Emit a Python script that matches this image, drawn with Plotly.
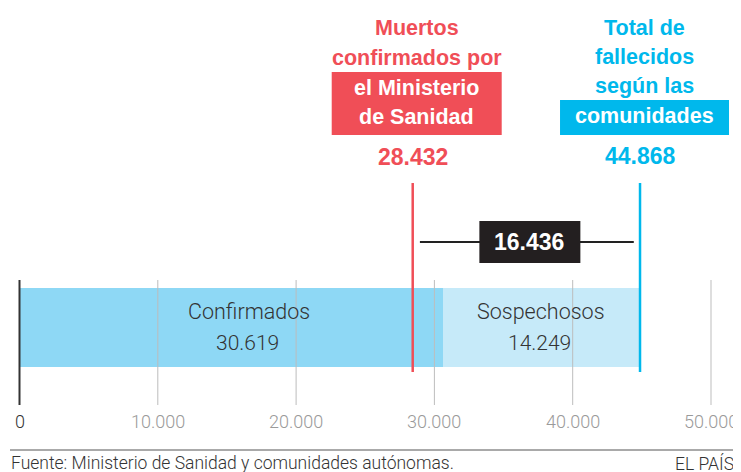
import plotly.graph_objects as go

# ---- data ----
categories = ["Confirmados", "Sospechosos"]
values = [30619, 14249]
bar_colors = ["#8ED8F5", "#C6EAF9"]
muertos_ministerio = 28432
total_comunidades = 44868
tick_values = [0, 10000, 20000, 30000, 40000, 50000]
tick_labels = ["0", "10.000", "20.000", "30.000", "40.000", "50.000"]

RED = "#F04E57"
CYAN = "#00B8EC"
BOLD = "Liberation Sans"
REG = "Roboto"

# page body has an 8px margin: figure is drawn at screen (8, 8)
OFF = 8
W, H = 741 - OFF, 472 - OFF


def fmt(v):
    return f"{v:,}".replace(",", ".")


def px(xs):
    return (xs - OFF) / W


fig = go.Figure()
BAR_Y = 327.5
for cat, val, col in zip(categories, values, bar_colors):
    fig.add_trace(go.Bar(
        y=[BAR_Y], x=[val], orientation="h", width=79,
        marker=dict(color=col, line=dict(width=0)),
        name=cat, hoverinfo="skip", showlegend=False,
    ))

shapes = []
annotations = []

# gridlines
for tv in tick_values:
    shapes.append(dict(type="line", xref="x", yref="y", x0=tv, x1=tv, y0=280, y1=405,
                       line=dict(color="#333333" if tv == 0 else "#BDBDBD",
                                 width=2 if tv == 0 else 1),
                       layer="above"))
for tv, tl in zip(tick_values, tick_labels):
    annotations.append(dict(x=tv, y=421, xref="x", yref="y", text=tl, showarrow=False,
                            font=dict(family=REG, size=18, weight=300,
                                      color="#333333" if tv == 0 else "#9A9A9A"),
                            xanchor="center", yanchor="middle"))

# bar labels
offsets = [18, 0]
start = 0
for cat, val, off in zip(categories, values, offsets):
    cx = start + val / 2
    annotations.append(dict(x=cx, y=311, xref="x", yref="y", text=cat, showarrow=False,
                            xshift=off, font=dict(family=REG, size=21.5, color="#333333", weight=300),
                            xanchor="center", yanchor="middle"))
    annotations.append(dict(x=cx, y=343, xref="x", yref="y", text=fmt(val), showarrow=False,
                            xshift=off - 2, font=dict(family=REG, size=21, color="#333333", weight=300),
                            xanchor="center", yanchor="middle"))
    start += val

# vertical reference lines
for v, col in [(muertos_ministerio, RED), (total_comunidades, CYAN)]:
    shapes.append(dict(type="line", xref="x", yref="y", x0=v, x1=v, y0=183, y1=372,
                       line=dict(color=col, width=2.5), layer="above"))

# red label
red_lines = [("Muertos", 28), ("confirmados por", 58), ("el Ministerio", 88), ("de Sanidad", 117)]
shapes.append(dict(type="rect", xref="x", yref="y", xsizemode="pixel", xanchor=muertos_ministerio,
                   x0=-81, x1=89, y0=72, y1=135, fillcolor=RED, line=dict(width=0), layer="below"))
for i, (t, yy) in enumerate(red_lines):
    annotations.append(dict(x=muertos_ministerio, y=yy, xref="x", yref="y", text=t, showarrow=False,
                            xshift=4, font=dict(family=BOLD, size=21.5, weight="bold",
                                                color="white" if i >= 2 else RED),
                            xanchor="center", yanchor="middle"))
annotations.append(dict(x=muertos_ministerio, y=157, xref="x", yref="y", text=fmt(muertos_ministerio),
                        showarrow=False, xshift=0,
                        font=dict(family=BOLD, size=23, weight="bold", color=RED),
                        xanchor="center", yanchor="middle"))

# cyan label
cyan_lines = [("Total de", 28), ("fallecidos", 57), ("según las", 86), ("comunidades", 116)]
shapes.append(dict(type="rect", xref="x", yref="y", xsizemode="pixel", xanchor=total_comunidades,
                   x0=-80, x1=89, y0=100, y1=135, fillcolor=CYAN, line=dict(width=0), layer="below"))
for i, (t, yy) in enumerate(cyan_lines):
    annotations.append(dict(x=total_comunidades, y=yy, xref="x", yref="y", text=t, showarrow=False,
                            xshift=4, font=dict(family=BOLD, size=21.5, weight="bold",
                                                color="white" if i == 3 else CYAN),
                            xanchor="center", yanchor="middle"))
annotations.append(dict(x=total_comunidades, y=156, xref="x", yref="y", text=fmt(total_comunidades),
                        showarrow=False, xshift=0,
                        font=dict(family=BOLD, size=23, weight="bold", color=CYAN),
                        xanchor="center", yanchor="middle"))

# difference bracket
diff = total_comunidades - muertos_ministerio
shapes.append(dict(type="line", xref="x", yref="y", x0=muertos_ministerio + 520,
                   x1=total_comunidades - 450, y0=242, y1=242,
                   line=dict(color="#222222", width=2), layer="above"))
mid = (muertos_ministerio + total_comunidades) / 2
shapes.append(dict(type="rect", xref="x", yref="y", xsizemode="pixel", xanchor=mid,
                   x0=-47, x1=54, y0=221, y1=263, fillcolor="#231F20",
                   line=dict(width=0), layer="above"))
annotations.append(dict(x=mid, y=242, xref="x", yref="y", text=fmt(diff), showarrow=False,
                        xshift=3, font=dict(family=BOLD, size=23, weight="bold", color="white"),
                        xanchor="center", yanchor="middle"))

# footer
shapes.append(dict(type="line", xref="paper", yref="y", x0=px(10), x1=1, y0=450, y1=450,
                   line=dict(color="#555555", width=1)))
annotations.append(dict(x=px(10), y=463, xref="paper", yref="y",
                        text="Fuente: Ministerio de Sanidad y comunidades autónomas.",
                        showarrow=False, xanchor="left", yanchor="middle", xshift=-1,
                        font=dict(family=REG, size=17.5, color="#333333", weight=300)))
annotations.append(dict(x=px(735), y=463, xref="paper", yref="y", text="EL PAÍS",
                        showarrow=False, xanchor="right", yanchor="middle", xshift=1,
                        font=dict(family=REG, size=17.5, color="#333333", weight=300)))

PX_PER_UNIT = 691.5 / 50000
fig.update_layout(
    width=W, height=H,
    margin=dict(l=0, r=0, t=0, b=0),
    paper_bgcolor="white", plot_bgcolor="white",
    barmode="stack", bargap=0,
    xaxis=dict(range=[(OFF - 19.5) / PX_PER_UNIT, (741 - 19.5) / PX_PER_UNIT], visible=False,
               showgrid=False, zeroline=False, fixedrange=True),
    yaxis=dict(range=[472, OFF], visible=False, showgrid=False, zeroline=False, fixedrange=True),
    shapes=shapes, annotations=annotations, showlegend=False,
)

fig.write_html("out.html")
